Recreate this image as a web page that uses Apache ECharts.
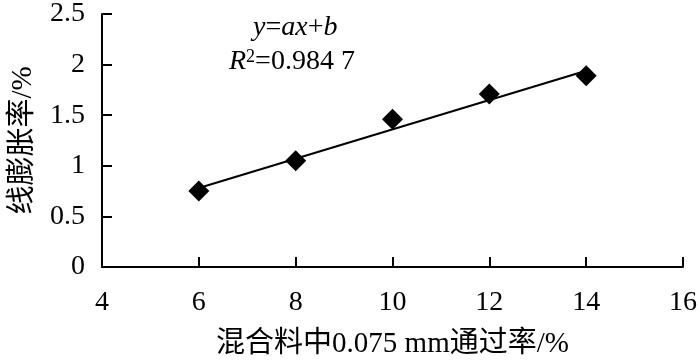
<!DOCTYPE html>
<html>
<head>
<meta charset="utf-8">
<script src="https://cdn.jsdelivr.net/npm/echarts@6/dist/echarts.min.js"></script>
<style>
html,body{margin:0;padding:0;background:#fff;}
#chart{width:700px;height:364px;}
</style>
</head>
<body>
<div id="chart"></div>
<script>
// 测试数据
var passRate = [6, 8, 10, 12, 14];
var swellRate = [0.75, 1.05, 1.46, 1.71, 1.89];
// 拟合线端点
var fitX = [6, 14];
var fitY = [0.78, 1.94];

var serif = "'Liberation Serif', 'Noto Sans CJK SC', serif";
var pts = [];
for (var i = 0; i < passRate.length; i++) {
	pts.push([passRate[i], swellRate[i]]);
}
var fitLine = [];
for (var j = 0; j < fitX.length; j++) {
	fitLine.push([fitX[j], fitY[j]]);
}

var chart = echarts.init(document.getElementById('chart'));
var option = {
	animation: false,
	backgroundColor: '#fff',
	grid: {
		left: 102,
		right: 16,
		top: 11,
		bottom: 91
	},
	xAxis: {
		type: 'value',
		min: 4,
		max: 16,
		interval: 2,
		name: '混合料中0.075 mm通过率/%',
		nameLocation: 'middle',
		nameGap: 63,
		nameTextStyle: {color: '#000', fontSize: 29, fontFamily: serif},
		axisLine: {lineStyle: {color: '#000', width: 2}},
		axisTick: {inside: true, length: 10, lineStyle: {color: '#000', width: 2}},
		axisLabel: {color: '#000', fontSize: 28, fontFamily: serif, margin: 22},
		splitLine: {show: false}
	},
	yAxis: {
		type: 'value',
		min: 0,
		max: 2.5,
		interval: 0.5,
		name: '线膨胀率/%',
		nameLocation: 'middle',
		nameGap: 64,
		nameTextStyle: {color: '#000', fontSize: 29, fontFamily: serif},
		axisLine: {show: true, lineStyle: {color: '#000', width: 2}},
		axisTick: {show: true, inside: true, length: 10, lineStyle: {color: '#000', width: 2}},
		axisLabel: {color: '#000', fontSize: 28, fontFamily: serif, margin: 17},
		splitLine: {show: false}
	},
	graphic: [{
		type: 'text',
		left: 253,
		top: 14,
		style: {
			text: '{i|y}{n|=}{i|ax}{n|+}{i|b}',
			rich: {
				i: {fontSize: 28, fontStyle: 'italic', fontFamily: serif, fill: '#000'},
				n: {fontSize: 28, fontFamily: serif, fill: '#000'}
			}
		}
	}, {
		type: 'text',
		left: 229,
		top: 48,
		style: {
			text: '{i|R}{s|2}{n|=0.984 7}',
			rich: {
				i: {fontSize: 28, fontStyle: 'italic', fontFamily: serif, fill: '#000'},
				s: {fontSize: 18, fontFamily: serif, fill: '#000', verticalAlign: 'top', padding: [0, 0, 10, 0]},
				n: {fontSize: 28, fontFamily: serif, fill: '#000'}
			}
		}
	}],
	series: [{
		type: 'line',
		data: fitLine,
		symbol: 'none',
		lineStyle: {color: '#000', width: 2},
		z: 2
	}, {
		type: 'scatter',
		data: pts,
		symbol: 'diamond',
		symbolSize: 21,
		itemStyle: {color: '#000', opacity: 1},
		z: 3
	}]
};
chart.setOption(option);
</script>
</body>
</html>
